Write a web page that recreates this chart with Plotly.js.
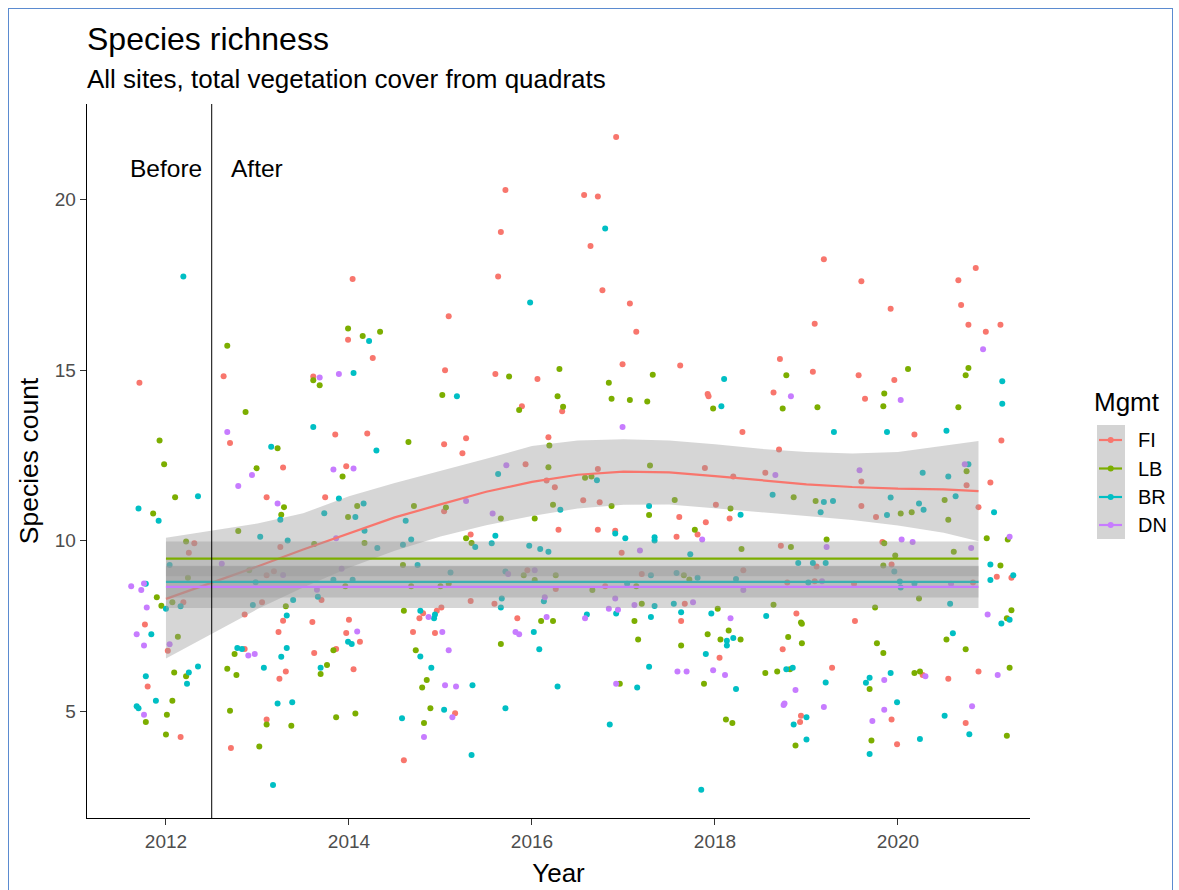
<!DOCTYPE html>
<html>
<head>
<meta charset="utf-8">
<script src="https://cdn.plot.ly/plotly-3.0.1.min.js"></script>
<style>
html,body{margin:0;padding:0;background:#fff;}
#chart{width:1179px;height:890px;position:absolute;left:0;top:0;}
#frame{position:absolute;left:8px;top:8px;width:1163px;height:900px;border:1px solid #5b8bd0;border-bottom:none;pointer-events:none;}
</style>
</head>
<body>
<div id="chart"></div>
<div id="frame"></div>
<script>
// ---------------- data (jittered points) ----------------
const fiPoints = [
[2011.71,14.63],[2012.63,14.82],[2012.70,12.86],[2013.28,12.14],
[2013.10,11.27],[2012.31,9.92],[2012.25,9.64],[2013.25,9.81],[2013.10,8.98],[2013.18,9.10],[2012.19,8.19],[2013.05,8.19],[2012.86,7.83],[2013.28,7.65],[2013.23,7.32],[2011.77,7.54],[2012.02,6.77],[2012.86,6.82],[2013.31,6.16],[2013.24,5.95],[2011.80,5.72],[2012.16,4.24],[2013.10,4.75],[2012.71,3.92],
[2014.04,17.67],[2013.99,15.89],[2014.26,15.35],[2015.09,16.58],[2013.61,14.81],[2015.05,14.99],[2013.85,13.11],[2014.20,13.14],[2015.04,12.82],[2015.28,13.00],[2015.24,12.56],[2013.97,12.18],
[2013.74,11.27],[2015.04,10.86],[2015.33,10.18],[2013.70,8.26],[2015.33,8.23],[2013.60,7.61],[2014.00,7.68],[2013.97,7.29],[2014.12,7.03],[2013.62,6.70],[2013.86,6.82],[2014.05,6.23],[2014.81,7.87],[2014.77,7.72],[2014.96,7.94],[2015.01,8.04],[2014.70,7.32],[2014.94,7.29],[2015.16,4.94],[2014.60,3.56],
[2016.92,21.83],[2015.71,20.28],[2016.57,20.13],[2016.72,20.09],[2015.66,19.05],[2016.64,18.64],[2015.63,17.74],[2016.77,17.34],[2017.07,16.95],[2017.14,16.12],[2016.99,15.17],[2015.60,14.88],[2016.06,14.74],[2015.89,13.94],[2016.33,13.79],[2016.18,13.03],[2015.93,12.24],[2016.72,12.10],
[2016.16,11.76],[2016.25,11.56],[2016.56,11.18],[2016.74,11.12],[2016.29,10.32],[2016.72,10.32],[2016.91,10.29],[2016.98,9.64],[2015.95,9.13],[2017.20,9.02],[2016.26,8.58],[2016.80,8.66],[2015.59,8.15],[2015.84,7.72],
[2019.19,18.25],[2019.09,16.36],[2017.62,15.13],[2018.71,15.32],[2019.07,14.95],[2017.92,14.30],[2017.93,14.23],[2018.64,14.34],[2018.30,13.18],[2018.70,12.67],[2017.89,12.13],
[2018.20,11.88],[2018.55,11.99],[2018.01,11.05],[2018.16,10.65],[2017.61,10.69],[2017.90,10.54],[2017.81,10.18],[2017.58,10.11],[2018.72,9.85],[2019.11,9.24],[2018.31,9.13],[2018.79,8.77],[2019.09,8.81],[2017.67,8.15],[2018.89,7.86],[2017.63,7.64],[2018.74,6.81],[2018.05,6.56],[2019.28,6.27],[2018.94,4.86],[2018.93,4.68],
[2020.85,17.99],[2019.60,17.60],[2020.66,17.63],[2019.92,16.80],[2020.69,16.91],[2020.77,16.33],[2021.12,16.33],[2020.96,16.12],[2019.57,14.85],[2019.96,14.71],[2019.64,14.16],[2020.18,13.11],[2021.13,12.93],
[2019.60,11.73],[2020.75,11.62],[2021.01,11.70],[2019.60,11.01],[2020.88,10.98],[2019.76,10.69],[2019.83,9.96],[2019.93,9.30],[2021.08,8.94],[2021.24,8.91],[2019.52,8.73],[2020.82,8.77],[2019.53,7.64],[2020.88,6.16],[2020.27,6.06],[2020.55,5.95],[2019.93,4.75],[2020.74,4.65],[2019.99,4.03]
];
const lbPoints = [
[2012.67,15.71],[2012.87,13.77],[2013.22,12.71],[2011.93,12.93],[2011.98,12.24],[2012.99,12.12],
[2012.10,11.27],[2011.86,10.79],[2013.29,10.98],[2013.26,10.76],[2012.79,10.28],[2012.22,9.97],[2012.24,8.91],[2012.91,9.13],[2011.90,8.34],[2011.95,8.09],[2012.07,8.19],[2013.31,8.07],[2012.13,7.18],[2012.75,6.67],[2012.67,6.24],[2012.77,6.06],[2012.09,6.13],[2012.22,6.02],[2012.07,5.30],[2012.01,4.89],[2011.78,4.68],[2012.00,4.31],[2013.10,4.61],[2012.70,5.01],[2013.02,3.96],
[2013.99,16.22],[2014.15,16.00],[2014.34,16.12],[2013.61,14.70],[2013.68,14.55],[2015.02,14.27],[2014.65,12.89],
[2013.93,11.88],[2014.09,11.01],[2013.99,10.69],[2014.17,9.93],[2013.62,9.90],[2014.71,11.01],[2015.06,10.97],[2015.28,10.07],[2015.34,9.93],[2014.59,9.28],[2013.96,8.66],[2014.68,8.66],[2015.00,8.66],[2015.09,8.73],[2013.83,6.78],[2013.76,6.35],[2013.69,6.09],[2013.37,4.57],[2013.86,4.82],[2014.07,4.93],[2014.60,7.94],[2014.73,6.78],[2014.85,5.91],[2014.80,5.69],[2014.89,5.08],[2014.82,4.65],
[2015.75,14.81],[2016.30,15.03],[2017.32,14.86],[2016.84,14.63],[2016.28,14.23],[2016.87,14.16],[2017.07,14.12],[2017.26,14.08],[2015.86,13.83],[2016.34,13.92],[2016.19,12.79],[2016.18,12.15],[2017.29,12.20],
[2016.58,11.84],[2016.65,11.88],[2016.23,11.05],[2016.87,11.01],[2017.28,10.75],[2015.66,10.65],[2016.03,10.65],[2015.91,8.98],[2016.03,8.84],[2016.26,8.98],[2017.14,8.66],[2016.66,8.55],[2017.20,8.15],[2016.10,7.64],[2016.23,7.64],[2017.12,7.64],[2015.66,6.97],[2017.16,7.10],[2016.96,5.80],
[2018.78,14.85],[2017.98,13.87],[2018.74,13.87],[2019.12,13.91],
[2018.86,11.27],[2019.10,11.16],[2017.56,11.19],[2018.17,10.94],[2017.78,10.32],[2018.29,9.75],[2018.83,9.81],[2019.22,10.03],[2017.66,8.98],[2017.72,8.86],[2018.64,8.12],[2018.03,8.00],[2018.94,7.60],[2018.95,7.56],[2017.92,7.25],[2018.15,7.36],[2018.06,7.10],[2018.28,7.10],[2018.80,7.17],[2018.95,6.99],[2017.63,6.92],[2018.55,6.12],[2018.68,6.16],[2018.82,6.23],[2017.88,5.80],[2018.12,4.75],[2018.19,4.65],[2018.88,3.99],
[2020.11,15.03],[2020.77,15.06],[2020.74,14.85],[2019.85,14.31],[2019.84,13.94],[2020.66,13.91],
[2020.75,12.03],[2020.51,11.19],[2020.03,10.79],[2020.15,10.83],[2020.55,10.61],[2019.85,9.92],[2020.97,10.07],[2021.20,10.03],[2020.61,9.67],[2019.97,9.56],[2019.84,9.27],[2021.12,9.27],[2020.23,8.30],[2019.75,8.04],[2021.24,7.96],[2021.19,7.72],[2020.53,7.10],[2020.74,6.81],[2019.77,6.99],[2019.84,6.70],[2021.22,6.27],[2020.18,6.12],[2020.24,6.16],[2019.69,5.65],[2021.19,4.28],[2019.71,4.14]
];
const brPoints = [
[2012.19,17.74],[2013.15,12.75],
[2012.35,11.30],[2011.70,10.94],[2011.92,10.58],[2013.25,10.61],[2013.03,10.11],[2012.04,9.28],[2012.98,8.78],[2011.78,8.73],[2012.00,8.00],[2012.16,8.07],[2012.95,8.11],[2013.32,7.80],[2011.84,7.25],[2012.78,6.85],[2012.83,6.82],[2013.32,6.85],[2013.26,6.59],[2013.07,6.27],[2012.35,6.31],[2012.25,6.13],[2012.23,5.80],[2011.78,6.02],[2011.89,5.30],[2011.68,5.14],[2011.70,5.08],[2013.22,5.22],[2013.17,2.83],
[2014.22,15.85],[2014.05,14.91],[2015.18,14.23],[2013.61,13.33],[2014.30,12.64],
[2013.89,11.23],[2013.73,10.80],[2014.16,11.09],[2014.07,10.69],[2014.17,10.29],[2014.31,9.78],[2013.33,10.00],[2014.62,10.58],[2014.68,10.03],[2014.59,9.88],[2014.75,9.28],[2015.11,9.06],[2013.83,8.85],[2014.04,8.85],[2013.66,8.35],[2013.39,8.26],[2013.99,7.03],[2014.03,6.97],[2013.69,6.27],[2013.38,5.26],[2014.78,7.94],[2014.93,7.72],[2014.94,7.83],[2014.78,6.60],[2014.90,6.27],[2015.35,5.76],[2015.04,5.04],[2014.58,4.79],[2015.34,3.71],
[2016.80,19.15],[2015.98,16.98],
[2015.63,11.95],[2016.71,11.77],[2016.31,10.90],[2017.28,11.01],[2016.91,10.21],[2017.02,10.07],[2017.34,10.10],[2017.34,10.00],[2015.60,10.14],[2015.38,9.81],[2015.56,9.92],[2015.97,9.85],[2016.09,9.75],[2016.18,9.67],[2015.71,9.09],[2017.30,8.98],[2017.04,8.73],[2015.67,8.30],[2015.66,8.04],[2016.13,8.22],[2016.92,7.86],[2017.34,8.08],[2016.60,7.83],[2017.30,7.76],[2016.02,7.32],[2016.08,6.81],[2017.28,6.30],[2016.28,5.72],[2017.15,5.69],[2015.71,5.08],[2016.85,4.61],
[2018.10,14.74],[2018.07,13.94],[2019.30,13.18],
[2018.63,11.34],[2019.19,11.13],[2019.29,11.16],[2019.155,10.83],[2018.28,10.76],[2017.73,9.60],[2018.91,9.34],[2019.07,9.34],[2019.21,9.34],[2017.58,9.05],[2017.81,8.91],[2018.23,8.87],[2019.02,8.77],[2017.55,8.15],[2017.63,7.90],[2017.96,7.86],[2018.56,7.79],[2018.13,7.06],[2018.20,7.14],[2018.13,6.92],[2017.90,6.67],[2018.78,6.23],[2018.85,6.27],[2018.23,5.65],[2019.21,5.84],[2019.00,4.82],[2018.86,4.61],[2019.00,4.17],[2017.85,2.69],
[2021.14,14.67],[2021.14,14.01],[2019.88,13.18],[2020.53,13.22],
[2020.77,12.24],[2020.27,11.99],[2020.55,11.88],[2019.92,11.26],[2020.63,11.30],[2020.23,11.09],[2020.28,10.90],[2021.05,10.83],[2019.88,10.75],[2019.96,9.09],[2021.01,9.30],[2021.26,8.98],[2021.01,8.84],[2020.02,8.80],[2020.03,8.62],[2020.18,8.73],[2020.57,8.15],[2021.22,7.68],[2021.13,7.57],[2020.60,7.28],[2019.92,6.12],[2019.69,5.98],[2019.65,5.83],[2019.99,5.26],[2020.51,4.86],[2020.78,4.32],[2020.24,4.18],[2019.69,3.74]
];
const dnPoints = [
[2012.67,13.18],
[2012.94,11.92],[2012.79,11.60],[2013.22,11.09],[2012.61,9.32],[2013.28,8.99],[2011.62,8.66],[2011.76,8.74],[2011.73,8.55],[2011.79,8.04],[2011.68,7.25],[2011.76,6.92],[2012.04,6.96],[2012.90,6.63],[2012.97,6.67],[2011.76,4.89],
[2013.68,14.78],[2013.89,14.88],[2013.83,12.08],[2014.05,12.11],
[2015.28,11.16],[2013.86,10.07],[2013.92,9.17],[2013.65,8.56],[2014.09,7.33],[2014.87,7.76],[2015.02,7.32],[2015.09,6.78],[2015.05,5.76],[2015.17,5.72],[2015.13,4.82],[2014.82,4.24],
[2016.99,13.33],[2015.72,12.21],
[2015.57,10.79],[2017.18,9.71],[2015.74,9.02],[2016.03,9.13],[2016.14,8.34],[2016.91,8.30],[2016.84,8.00],[2016.94,7.97],[2017.12,8.11],[2016.16,7.76],[2016.58,7.72],[2015.82,7.32],[2015.86,7.25],[2016.92,5.80],
[2018.83,14.23],
[2018.66,11.92],[2017.86,10.03],[2019.22,9.81],[2018.31,8.55],[2019.17,8.81],[2017.76,8.19],[2018.17,7.72],[2017.59,6.16],[2017.69,6.16],[2017.98,6.20],[2018.11,6.06],[2018.88,5.62],[2018.75,5.18],[2018.76,5.22],[2019.19,5.12],
[2020.93,15.61],[2020.03,14.12],
[2019.58,12.06],[2020.73,12.24],[2020.04,10.03],[2020.16,9.96],[2021.22,10.11],[2020.80,9.78],[2020.58,8.73],[2020.98,7.83],[2021.09,6.06],[2020.30,6.02],[2019.85,5.91],[2019.85,5.04],[2020.81,5.14],[2019.72,4.71]
];

// loess fit for FI with its confidence band
const fiFitYear = [2012.0,2012.5,2013.0,2013.5,2014.0,2014.5,2015.0,2015.5,2016.0,2016.5,2017.0,2017.5,2018.0,2018.5,2019.0,2019.5,2020.0,2020.5,2020.88];
const fiFit     = [8.29,8.76,9.24,9.74,10.22,10.68,11.06,11.43,11.72,11.93,12.02,12.00,11.89,11.76,11.65,11.57,11.52,11.50,11.45];
const fiUpper   = [10.08,10.28,10.50,10.80,11.30,11.69,12.04,12.40,12.77,12.93,12.97,12.93,12.82,12.69,12.60,12.55,12.60,12.79,12.92];
const fiLower   = [6.54,7.27,7.99,8.62,9.20,9.70,10.12,10.45,10.72,10.94,11.05,11.06,10.96,10.83,10.72,10.60,10.44,10.23,9.98];

// flat fits for the other groups
const flatYears = [2012.0, 2020.88];
const lbFit = [9.47, 9.47],  lbLower = [8.95, 8.95], lbUpper = [9.97, 9.97];
const brFit = [8.79, 8.79],  brLower = [8.33, 8.33], brUpper = [9.25, 9.25];
const dnFit = [8.64, 8.64],  dnLower = [8.02, 8.02], dnUpper = [9.26, 9.26];

const groups = ['FI','LB','BR','DN'];
const xTicks = [2012, 2014, 2016, 2018, 2020];
const yTicks = [5, 10, 15, 20];
const treatmentYear = 2012.5;
const periodLabels = [{text:'Before', year:2012, y:20.9}, {text:'After', year:2013, y:20.9}];

// ---------------- styling ----------------
const colors = {FI:'#F8766D', LB:'#7CAE00', BR:'#00BFC4', DN:'#C77CFF'};
const FONT = 'Liberation Sans, Arial, sans-serif';
const ribbonFill = 'rgba(153,153,153,0.4)';

const pointSets = {FI:fiPoints, LB:lbPoints, BR:brPoints, DN:dnPoints};
const fits = {
  FI:{x:fiFitYear, y:fiFit, lo:fiLower, hi:fiUpper},
  LB:{x:flatYears, y:lbFit, lo:lbLower, hi:lbUpper},
  BR:{x:flatYears, y:brFit, lo:brLower, hi:brUpper},
  DN:{x:flatYears, y:dnFit, lo:dnLower, hi:dnUpper}
};

const traces = [];
groups.forEach(g => {
  traces.push({
    type:'scatter', mode:'markers', name:g,
    x: pointSets[g].map(p => p[0]), y: pointSets[g].map(p => p[1]),
    marker:{color:colors[g], size:6, line:{width:0}},
    showlegend:false, hoverinfo:'skip'
  });
});
groups.forEach(g => {
  const f = fits[g];
  traces.push({
    type:'scatter', mode:'lines', fill:'toself', fillcolor:ribbonFill,
    x: f.x.concat(f.x.slice().reverse()),
    y: f.hi.concat(f.lo.slice().reverse()),
    line:{width:0, color:'rgba(0,0,0,0)'}, showlegend:false, hoverinfo:'skip'
  });
  traces.push({
    type:'scatter', mode:'lines', x:f.x, y:f.y,
    line:{color:colors[g], width:2.2}, showlegend:false, hoverinfo:'skip'
  });
});

// pixel helpers for the hand-made legend (plot panel: x 87..1030, y 104..818)
const PL = 87, PR = 1030, PT = 104, PB = 818;
const px = v => (v - PL) / (PR - PL);
const py = v => (PB - v) / (PB - PT);

const shapes = [
  {type:'line', xref:'x', yref:'paper', x0:treatmentYear, x1:treatmentYear, y0:0, y1:1,
   line:{color:'#000', width:1}},
  {type:'rect', xref:'paper', yref:'paper', x0:px(1097), x1:px(1125), y0:py(539), y1:py(425),
   fillcolor:'#d4d4d4', line:{width:0}, layer:'above'}
];
const annotations = [
  {xref:'paper', yref:'paper', x:px(85), y:py(39), xanchor:'left', yanchor:'middle',
   text:'Species richness', showarrow:false,
   font:{family:FONT, size:32, color:'#000'}},
  {xref:'paper', yref:'paper', x:px(85), y:py(79), xanchor:'left', yanchor:'middle',
   text:'All sites, total vegetation cover from quadrats', showarrow:false,
   font:{family:FONT, size:26, color:'#000'}},
  {xref:'paper', yref:'paper', x:px(1092), y:py(402), xanchor:'left', yanchor:'middle',
   text:'Mgmt', showarrow:false, font:{family:FONT, size:26, color:'#000'}}
];
periodLabels.forEach(p => annotations.push({
  xref:'x', yref:'y', x:p.year, y:p.y, xanchor:'center', yanchor:'middle', text:p.text,
  showarrow:false, font:{family:FONT, size:24.5, color:'#000'}
}));
const keyCenters = [440, 468.5, 497, 525];
groups.forEach((g, i) => {
  const cy = py(keyCenters[i]);
  shapes.push({type:'line', xref:'paper', yref:'paper', x0:px(1099), x1:px(1122), y0:cy, y1:cy,
    line:{color:colors[g], width:2.2}, layer:'above'});
  shapes.push({type:'circle', xref:'paper', yref:'paper', xsizemode:'pixel', ysizemode:'pixel',
    xanchor:px(1110.7), yanchor:cy, x0:-3, x1:3, y0:-3, y1:3,
    fillcolor:colors[g], line:{width:0}, layer:'above'});
  annotations.push({xref:'paper', yref:'paper', x:px(1136), y:cy, xanchor:'left', yanchor:'middle',
    text:g, showarrow:false, font:{family:FONT, size:20, color:'#000'}});
});

const layout = {
  width:1179, height:890,
  margin:{l:PL, r:1179-PR, t:PT, b:890-PB},
  paper_bgcolor:'#fff', plot_bgcolor:'#fff',
  showlegend:false,
  xaxis:{range:[2011.137, 2021.443], tickvals:xTicks, ticktext:xTicks.map(String),
         ticks:'outside', ticklen:6, tickwidth:1, tickcolor:'#333',
         showline:true, linecolor:'#000', linewidth:1.3, showgrid:false, zeroline:false,
         tickfont:{family:FONT, size:19, color:'#4d4d4d'},
         title:{text:'Year', font:{family:FONT, size:26, color:'#000'}, standoff:12}},
  yaxis:{range:[1.865, 22.80], tickvals:yTicks, ticktext:yTicks.map(String),
         ticks:'outside', ticklen:6, tickwidth:1, tickcolor:'#333',
         showline:true, linecolor:'#000', linewidth:1.3, showgrid:false, zeroline:false,
         tickfont:{family:FONT, size:19, color:'#4d4d4d'},
         title:{text:'Species count', font:{family:FONT, size:26.5, color:'#000'}, standoff:8}},
  shapes:shapes, annotations:annotations
};

Plotly.newPlot('chart', traces, layout, {staticPlot:true, displayModeBar:false});
</script>
</body>
</html>
